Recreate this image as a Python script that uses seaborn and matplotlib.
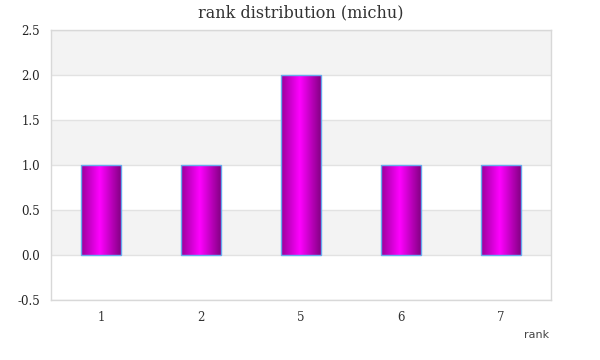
import matplotlib
matplotlib.use("Agg")
import matplotlib.pyplot as plt
import seaborn as sns
import numpy as np
import pandas as pd
from matplotlib.colors import LinearSegmentedColormap

ranks = ["1", "2", "5", "6", "7"]
counts = [1, 1, 2, 1, 1]
yticks = [-0.5, 0.0, 0.5, 1.0, 1.5, 2.0, 2.5]
title = "rank distribution (michu)"
xlabel = "rank"

sns.set_theme(style="white")
plt.rcParams['font.family'] = ['DejaVu Serif']

df = pd.DataFrame({"rank": ranks, "count": counts})

fig = plt.figure(figsize=(6, 3.6), dpi=100)
ax = fig.add_axes([51/600, 60/360, 500/600, 270/360])

# alternating bands
for i in range(len(yticks) - 1):
    lo, hi = yticks[i], yticks[i + 1]
    if i % 2 == 1:
        ax.axhspan(lo, hi, color="#f3f3f3", zorder=0, lw=0)
for y in yticks:
    ax.axhline(y, color="#e2e2e2", lw=1, zorder=0.5)

sns.barplot(data=df, x="rank", y="count", ax=ax, width=0.4,
            facecolor="none", edgecolor="#66aaee", linewidth=1, zorder=3)

cmap = LinearSegmentedColormap.from_list(
    "mag", [(0, "#990099"), (0.47, "#ff00ff"), (1, "#850085")])
grad = np.linspace(0, 1, 256).reshape(1, -1)
for p in ax.containers[0].patches:
    x0, y0 = p.get_x(), p.get_y()
    w, h = p.get_width(), p.get_height()
    im = ax.imshow(grad, cmap=cmap, aspect="auto",
                   extent=(x0, x0 + w, y0, y0 + h), zorder=2)
    im.set_clip_path(p)

ax.set_xlim(-0.5, len(ranks) - 0.5)
ax.set_ylim(-0.5, 2.5)
ax.set_yticks(yticks)
ax.set_yticklabels([f"{v:.1f}" for v in yticks], fontsize=8.5, color="#222222")
ax.set_xticks(range(len(ranks)))
ax.set_xticklabels(ranks, fontsize=8.5, color="#333333")
ax.tick_params(axis="both", length=0, pad=8)
ax.set_xlabel("")
ax.set_ylabel("")
for s in ax.spines.values():
    s.set_color("#d8d8d8")
    s.set_linewidth(1)

fig.text(301/600, 1 - 13/360, title, ha="center", va="center",
         fontsize=11.5, color="#333333", family="DejaVu Serif")
fig.text(549/600, 1 - 335/360, xlabel, ha="right", va="center",
         fontsize=8, color="#444444", family="DejaVu Sans")

fig.savefig("out.png", dpi=100)
